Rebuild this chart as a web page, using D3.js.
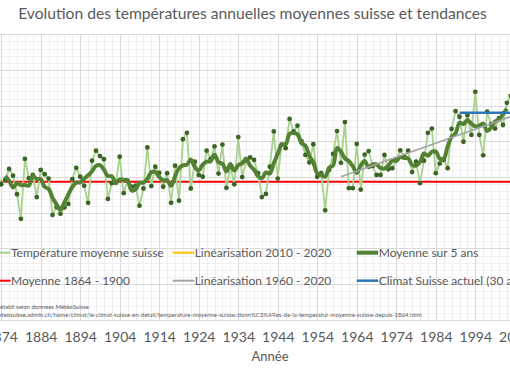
<!DOCTYPE html>
<html><head><meta charset="utf-8">
<script src="https://cdn.jsdelivr.net/npm/d3@7/dist/d3.min.js"></script>
<style>
body{margin:0;background:#fff;overflow:hidden}
svg{display:block}
text{font-family:Lato,"Liberation Sans",sans-serif;fill:#595959}
</style>
</head><body>
<svg id="chart" width="510" height="369"></svg>
<script>
// ---------- DATA ----------
const title = "Evolution des températures annuelles moyennes suisse et tendances";
const years = d3.range(1873, 2005);
const temperature = [
 5.15,4.80,4.92,5.23,5.04,4.52,3.83,5.51,4.97,5.06, // 1873-1882
 4.44,5.20,5.08,4.96,3.94,4.16,3.97,4.15,4.25,4.94, // 1883-1892
 5.26,5.01,4.76,4.28,5.46,5.74,5.59,5.50,4.39,4.83, // 1893-1902
 4.84,5.57,4.55,4.90,4.73,4.76,4.20,4.68,5.83,4.75, // 1903-1912
 5.29,5.12,4.73,5.11,4.28,5.32,4.34,6.06,6.24,4.68, // 1913-1922
 5.43,5.06,5.01,5.74,5.51,5.86,5.10,5.91,4.70,5.29, // 1923-1932
 4.80,6.12,5.00,5.46,5.55,5.48,5.11,4.44,4.53,5.29, // 1933-1942
 6.28,4.96,5.91,5.81,6.63,6.28,6.44,6.01,5.62,5.41, // 1943-1952
 5.92,5.01,5.11,4.07,5.20,5.65,6.29,5.40,6.54,4.69, // 1953-1962
 4.69,5.93,4.65,5.63,5.73,5.31,5.06,5.06,5.62,5.22, // 1963-1972
 5.25,5.48,5.75,5.57,5.74,5.14,5.43,4.83,5.46,6.24, // 1973-1982
 6.36,5.11,5.38,5.48,5.25,6.35,6.85,6.69,5.99,6.73, // 1983-1992
 6.18,7.39,6.18,5.61,6.83,6.48,6.36,6.65,6.46,7.08, // 1993-2002
 7.28,7.10                                          // 2003-2004
];
// Moyenne sur 5 ans
const movingAverageYears = d3.range(1875, 2003);
const movingAverage = movingAverageYears.map(y => {
  const i = years.indexOf(y);
  return d3.mean(temperature.slice(i - 2, i + 3));
});
const meanRefYears = [1864, 2020];
const meanRefValues = [4.87, 4.87];
const trend1960Years = [1960, 2020];
const trend1960Values = [5.01, 7.36];
const climateYears = [1990, 2020];
const climateValues = [6.80, 6.80];
const xTickYears = d3.range(1864, 2021, 10);
const xTickLabels = xTickYears.map(String);
const axisTitle = "Année";
const legendLabels = [
  ["Température moyenne suisse", "Linéarisation 2010 - 2020", "Moyenne sur 5 ans"],
  ["Moyenne 1864 - 1900", "Linéarisation 1960 - 2020", "Climat Suisse actuel (30 ans)"]
];
const sourceLines = [
  "établi selon données MétéoSuisse",
  "https://www.meteosuisse.admin.ch/home/climat/le-climat-suisse-en-detail/temperature-moyenne-suisse/donn%C3%A9es-de-la-temperatur-moyenne-suisse-depuis-1864.html"
];

// ---------- STYLE ----------
const C = {
  temp: "#a9d18e", dot: "#3b6524", ma: "#548235", mean: "#ff0000",
  trendGray: "#a5a5a5", trendYellow: "#ffc000", climate: "#2e75b6",
  gridMajor: "#d9d9d9", gridMinor: "#f0f0f0"
};
const legendColors = [[C.temp, C.trendYellow, C.ma],[C.mean, C.trendGray, C.climate]];
const legendWidths = [[2,2,4],[2,2,2.5]];

const svg = d3.select("#chart");
const x = d3.scaleLinear().domain([1884, 1994]).range([40.7, 40.7 + 110 * 3.951]);
const y = d3.scaleLinear().domain([1, 9]).range([319.9, 34.3]);
const xL = x(1863), xR = x(2021);

// grid
const g = svg.append("g");
g.selectAll(".hmin").data(d3.range(1, 9.001, 0.2)).join("line")
  .attr("x1", xL).attr("x2", xR).attr("y1", d => Math.round(y(d)) + 0.5).attr("y2", d => Math.round(y(d)) + 0.5)
  .attr("stroke", C.gridMinor);
g.selectAll(".vmin").data(d3.range(1864, 2021, 2)).join("line")
  .attr("y1", y(9)).attr("y2", y(1)).attr("x1", d => Math.round(x(d)) + 0.5).attr("x2", d => Math.round(x(d)) + 0.5)
  .attr("stroke", C.gridMinor);
g.selectAll(".hmaj").data(d3.range(1, 10)).join("line")
  .attr("x1", xL).attr("x2", xR).attr("y1", d => Math.round(y(d)) + 0.5).attr("y2", d => Math.round(y(d)) + 0.5)
  .attr("stroke", C.gridMajor);
g.selectAll(".vmaj").data(xTickYears).join("line")
  .attr("y1", y(9)).attr("y2", y(1)).attr("x1", d => Math.round(x(d)) + 0.5).attr("x2", d => Math.round(x(d)) + 0.5)
  .attr("stroke", C.gridMajor);

// x axis labels
const xAxis = d3.axisBottom(x).tickValues(xTickYears).tickFormat((d, i) => xTickLabels[i]).tickSize(0).tickPadding(0);
const ax = svg.append("g").attr("transform", `translate(0,${y(1)})`).call(xAxis);
ax.select(".domain").remove();
ax.selectAll("text").attr("y", 18).attr("dy", "0.32em").style("font-size", "14px").attr("fill", "#595959");
svg.append("text").attr("x", 270).attr("y", 357).attr("dy", "0.32em").attr("text-anchor", "middle")
  .style("font-size", "13px").text(axisTitle);

// source
sourceLines.forEach((s, i) => {
  const t = svg.append("text").style("font-size", "6px").attr("y", 309 + i * 7.5).text(s);
  if (i === 0) t.attr("x", 0); else t.attr("x", 421.7).attr("text-anchor", "end");
});

// legend
legendLabels.forEach((row, r) => {
  row.forEach((lab, c) => {
    const lx = [-11, 172.7, 356.7][c], ly = 252.7 + r * 28;
    svg.append("line").attr("x1", lx).attr("x2", lx + 21.5).attr("y1", ly).attr("y2", ly)
      .attr("stroke", legendColors[r][c]).attr("stroke-width", legendWidths[r][c]);
    svg.append("text").attr("x", lx + 22).attr("y", ly).attr("dy", "0.35em").style("font-size", "12px").text(lab);
  });
});

// series
const line = d3.line().x(d => x(d[0])).y(d => y(d[1]));
const tempPts = years.map((yr, i) => [yr, temperature[i]]);
svg.append("path").datum(d3.zip(meanRefYears, meanRefValues)).attr("d", line)
  .attr("fill", "none").attr("stroke", C.mean).attr("stroke-width", 2);
svg.append("path").datum(tempPts).attr("d", line)
  .attr("fill", "none").attr("stroke", C.temp).attr("stroke-width", 1.8);
svg.selectAll(".dot").data(tempPts).join("circle")
  .attr("cx", d => x(d[0])).attr("cy", d => y(d[1])).attr("r", 2.4).attr("fill", C.dot);
const smooth = d3.line().x(d => x(d[0])).y(d => y(d[1])).curve(d3.curveCatmullRom);
svg.append("path").datum(d3.zip(movingAverageYears, movingAverage)).attr("d", smooth)
  .attr("fill", "none").attr("stroke", C.ma).attr("stroke-width", 4).attr("stroke-linejoin", "round");
svg.append("path").datum(d3.zip(trend1960Years, trend1960Values)).attr("d", line)
  .attr("fill", "none").attr("stroke", C.trendGray).attr("stroke-width", 1.75);
svg.append("path").datum(d3.zip(climateYears, climateValues)).attr("d", line)
  .attr("fill", "none").attr("stroke", C.climate).attr("stroke-width", 2.5);

// title, fitted to the original width
const tt = svg.append("text").attr("x", 252.5).attr("y", 19.3).attr("text-anchor", "middle")
  .style("font-size", "20px").text(title);
const w = tt.node().getComputedTextLength();
tt.style("font-size", (20 * 469 / w) + "px");
</script>
</body></html>
